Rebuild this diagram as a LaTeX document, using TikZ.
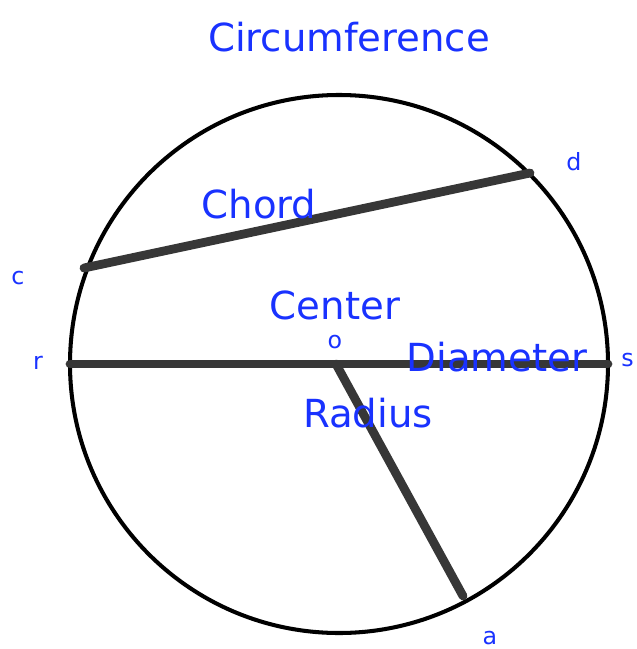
\documentclass[tikz,border=0pt]{standalone}
\usepackage{fontspec}
\setmainfont{DejaVu Sans}
\usepackage{tikz}

\definecolor{labelblue}{RGB}{25,50,255}
\definecolor{seggray}{RGB}{55,55,55}

\begin{document}
\begin{tikzpicture}[x=0.02cm,y=-0.02cm,
  seg/.style={segGray,line width=5pt,line cap=round},
  segGray/.style={color=seggray},
  big/.style={text=labelblue,font=\fontsize{22}{24}\selectfont,inner sep=0pt},
  small/.style={text=labelblue,font=\fontsize{13.5}{15}\selectfont,inner sep=0pt}]
\useasboundingbox (0,0) rectangle (636,649);

\coordinate (O) at (339,364);
\coordinate (C) at (84,268);
\coordinate (D) at (530,173);
\coordinate (R) at (70,364);
\coordinate (S) at (608,364);
\coordinate (A) at (463,596);
\coordinate (Q) at (336,364);

\draw[line width=2.3pt] (O) circle (269);

\draw[seg] (C)--(D);
\draw[seg] (R)--(S);
\draw[seg] (Q)--(A);

\node[big] (circ) at (349,37) {Circumference};
\node[big] (chord) at (259,204) {Chord};
\node[big] (center) at (335,305) {Center};
\node[big] (diam) at (497,357) {Diameter};
\node[big] (rad) at (368,413) {Radius};

\node[small] (o) at (335,342) {o};
\node[small] (d) at (574,162) {d};
\node[small] (c) at (18,278) {c};
\node[small] (r) at (38,363) {r};
\node[small,anchor=east] (s) at (634,360) {s};
\node[small] (a) at (490,638) {a};
\end{tikzpicture}
\end{document}
